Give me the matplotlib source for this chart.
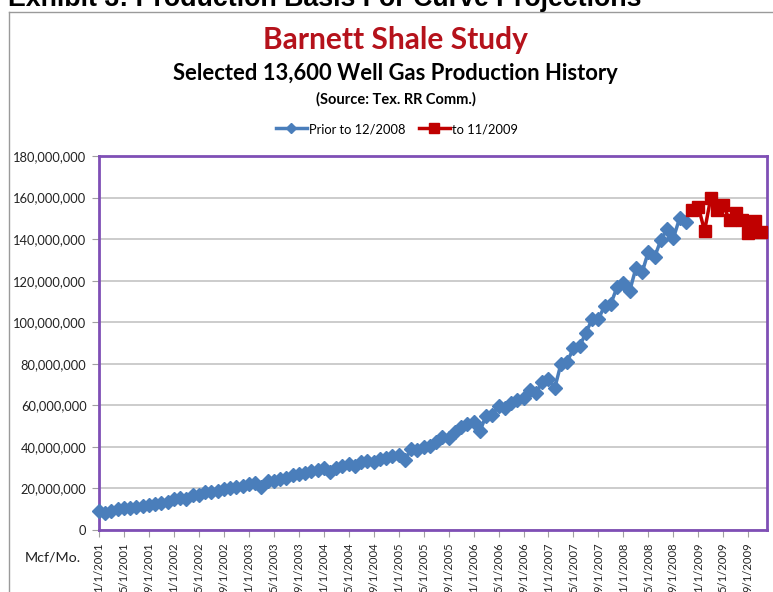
import matplotlib.pyplot as plt
import numpy as np
from matplotlib.lines import Line2D

# monthly production, Mcf/Mo (millions), 1/2001 .. 11/2008
prior_values = [
    9.0, 8.3, 9.2, 10.0, 10.5, 10.8, 11.0, 11.5, 12.2, 12.5, 13.0, 13.5,
    14.8, 15.5, 15.0, 16.8, 17.0, 18.2, 18.5, 19.0, 19.5, 20.0, 20.5, 21.0,
    22.0, 22.5, 20.8, 23.8, 23.5, 24.5, 25.0, 26.5, 27.0, 27.5, 28.5, 29.0,
    30.0, 28.0, 30.0, 31.0, 32.0, 31.0, 32.5, 33.0, 32.5, 34.0, 34.5, 35.5,
    36.0, 33.8, 38.8, 38.5, 40.0, 40.5, 42.5, 45.0, 44.3, 47.0, 49.5, 51.0,
    52.0, 47.5, 55.0, 55.5, 59.5, 58.7, 61.0, 62.5, 63.5, 67.5, 66.0, 71.0,
    72.5, 68.3, 80.0, 81.0, 87.5, 88.5, 95.0, 101.5, 101.5, 108.0, 109.0, 117.0,
    119.0, 115.0, 126.0, 124.0, 134.0, 131.5, 139.5, 145.0, 140.5, 150.0, 148.0,
]
# 12/2008 .. 11/2009
recent_values = [154.0, 155.5, 144.0, 160.0, 154.0, 156.5, 149.0, 152.5, 149.0, 143.0, 148.7, 143.5]

tick_labels = [f"{m}/1/{y}" for y in range(2001, 2010) for m in (1, 5, 9)]
y_ticks = list(range(0, 180_000_001, 20_000_000))

BLUE = "#4A7EBB"
RED = "#C00000"
PURPLE = "#7F4FB5"
FONT = "Lato"


def main() -> None:
    plt.rcParams["font.family"] = [FONT, "DejaVu Sans"]
    fig = plt.figure(figsize=(7.73, 5.92), dpi=100)
    ax = fig.add_axes([99 / 773, 1 - 530 / 592, 668 / 773, 374 / 592])

    x_prior = np.arange(len(prior_values))
    x_recent = np.arange(len(prior_values), len(prior_values) + len(recent_values))
    ax.plot(x_prior, np.array(prior_values) * 1e6, color=BLUE, lw=2.5, marker="D",
            ms=7.5, mec=BLUE, zorder=3, clip_on=False)
    ax.plot(x_recent, np.array(recent_values) * 1e6, color=RED, lw=2.5, marker="s",
            ms=8.5, mec=RED, zorder=3, clip_on=False)

    ax.set_xlim(0, 107)
    ax.set_ylim(0, 180_000_000)
    ax.set_yticks(y_ticks)
    ax.set_yticklabels([f"{v:,}" for v in y_ticks], fontsize=9.3, color="#222222")
    ax.set_xticks(np.arange(0, 105, 4))
    ax.set_xticklabels(tick_labels, rotation=90, fontsize=8.1, color="#222222", va="top")
    ax.tick_params(axis="both", color="#A0A0A0", length=5, width=0.8)
    ax.tick_params(axis="x", pad=4)
    ax.tick_params(axis="y", pad=4)
    ax.grid(axis="y", color="#BEBEBE", lw=1.1)
    ax.set_axisbelow(True)
    for side in ax.spines.values():
        side.set_color(PURPLE)
        side.set_linewidth(2)

    fig.text(0.512, 1 - 40 / 592, "Barnett Shale Study", ha="center", va="center",
             fontsize=21.5, fontweight="bold", color="#B5121B")
    fig.text(0.512, 1 - 74 / 592, "Selected 13,600 Well Gas Production History", ha="center",
             va="center", fontsize=15.8, fontweight="bold", color="black")
    fig.text(0.512, 1 - 99 / 592, "(Source: Tex. RR Comm.)", ha="center", va="center",
             fontsize=10.5, fontweight="bold", color="black")
    fig.text(25 / 773, 1 - 558 / 592, "Mcf/Mo.", ha="left", va="center", fontsize=10.3,
             color="#222222")
    fig.text(8 / 773, 1 - 6 / 592, "Exhibit 3: Production Basis For Curve Projections",
             ha="left", va="baseline", fontsize=19.3, fontweight="bold",
             family="Liberation Sans", color="black")

    handles = [
        Line2D([], [], color=BLUE, lw=2.5, marker="D", ms=5.5),
        Line2D([], [], color=RED, lw=2.5, marker="s", ms=6.5),
    ]
    fig.legend(handles, ["Prior to 12/2008", "to 11/2009"], loc="center",
               bbox_to_anchor=(397 / 773, 1 - 129 / 592), ncol=2, frameon=False,
               fontsize=9.3, handlelength=2.4, handletextpad=0.2, columnspacing=1.0)

    # outer chart frame
    fig.add_artist(Line2D([9 / 773, 9 / 773], [0, 1 - 12 / 592], color="#9A9A9A", lw=1))
    fig.add_artist(Line2D([9 / 773, 1], [1 - 12 / 592, 1 - 12 / 592], color="#9A9A9A", lw=1))

    fig.savefig("out.png", dpi=100)


if __name__ == "__main__":
    main()
